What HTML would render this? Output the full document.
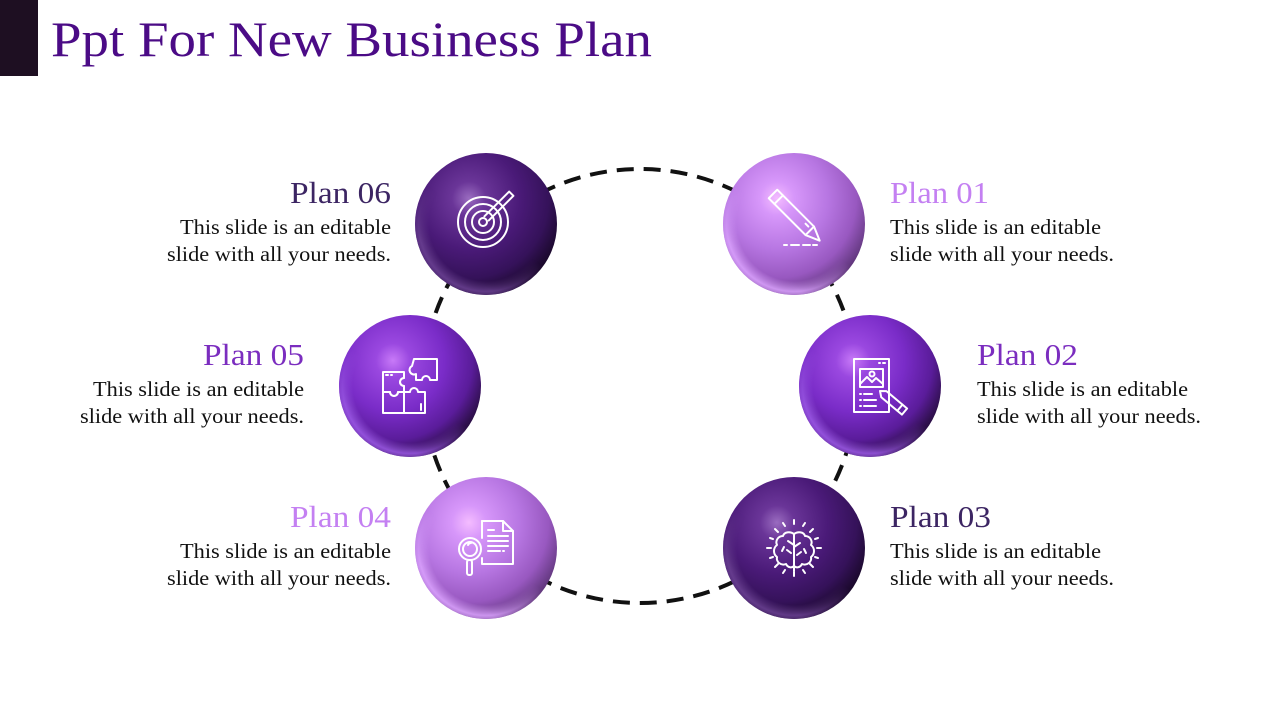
<!DOCTYPE html>
<html><head><meta charset="utf-8"><style>
html,body{margin:0;padding:0;background:#fff;}
svg{display:block;}
text{font-family:"Liberation Serif",serif;}
</style></head><body>
<svg width="1280" height="720" viewBox="0 0 1280 720" xmlns="http://www.w3.org/2000/svg">
<defs>
<radialGradient id="gL" cx="0.38" cy="0.32" r="0.8">
<stop offset="0" stop-color="#f4bcff"/><stop offset="0.15" stop-color="#d797fa"/><stop offset="0.45" stop-color="#b776e2"/><stop offset="0.7" stop-color="#9858c0"/><stop offset="0.85" stop-color="#6a3c88"/><stop offset="1" stop-color="#3a2048"/>
</radialGradient>
<radialGradient id="gM" cx="0.38" cy="0.32" r="0.8">
<stop offset="0" stop-color="#c87af8"/><stop offset="0.15" stop-color="#9a48e0"/><stop offset="0.45" stop-color="#7a2cc8"/><stop offset="0.7" stop-color="#5a1c9a"/><stop offset="0.85" stop-color="#30104f"/><stop offset="1" stop-color="#12041f"/>
</radialGradient>
<radialGradient id="gD" cx="0.38" cy="0.32" r="0.8">
<stop offset="0" stop-color="#9a6cc0"/><stop offset="0.15" stop-color="#6a3598"/><stop offset="0.45" stop-color="#4a1a78"/><stop offset="0.7" stop-color="#35125a"/><stop offset="0.85" stop-color="#1e0a32"/><stop offset="1" stop-color="#0a0210"/>
</radialGradient>
<radialGradient id="rL" cx="0.5" cy="0.5" r="0.5">
<stop offset="0.8" stop-color="#dca4ff" stop-opacity="0"/><stop offset="0.95" stop-color="#dca4ff" stop-opacity="0.85"/><stop offset="1" stop-color="#dca4ff" stop-opacity="0.6"/>
</radialGradient>
<radialGradient id="rM" cx="0.5" cy="0.5" r="0.5">
<stop offset="0.8" stop-color="#9c5ae6" stop-opacity="0"/><stop offset="0.95" stop-color="#9c5ae6" stop-opacity="0.85"/><stop offset="1" stop-color="#9c5ae6" stop-opacity="0.6"/>
</radialGradient>
<radialGradient id="rD" cx="0.5" cy="0.5" r="0.5">
<stop offset="0.8" stop-color="#6c4294" stop-opacity="0"/><stop offset="0.95" stop-color="#6c4294" stop-opacity="0.85"/><stop offset="1" stop-color="#6c4294" stop-opacity="0.6"/>
</radialGradient>
<linearGradient id="mg" x1="0.75" y1="0.35" x2="0.3" y2="1">
<stop offset="0.35" stop-color="#000"/><stop offset="0.8" stop-color="#fff"/>
</linearGradient>
<mask id="rimMask" maskContentUnits="objectBoundingBox">
<rect x="0" y="0" width="1" height="1" fill="url(#mg)"/>
</mask>
</defs>

<!-- header -->
<rect x="0" y="0" width="38" height="76" fill="#1e0f22"/>
<text x="51" y="56" font-size="50" fill="#4b0b86" textLength="601" lengthAdjust="spacingAndGlyphs">Ppt For New Business Plan</text>

<!-- dashed ring -->
<circle cx="640" cy="386" r="217" fill="none" stroke="#111" stroke-width="4" stroke-dasharray="17 10"/>

<!-- spheres -->
<g>
<circle cx="486" cy="224" r="71" fill="url(#gD)"/>
<circle cx="486" cy="224" r="71" fill="url(#rD)" mask="url(#rimMask)"/>
<circle cx="794" cy="224" r="71" fill="url(#gL)"/>
<circle cx="794" cy="224" r="71" fill="url(#rL)" mask="url(#rimMask)"/>
<circle cx="410" cy="386" r="71" fill="url(#gM)"/>
<circle cx="410" cy="386" r="71" fill="url(#rM)" mask="url(#rimMask)"/>
<circle cx="870" cy="386" r="71" fill="url(#gM)"/>
<circle cx="870" cy="386" r="71" fill="url(#rM)" mask="url(#rimMask)"/>
<circle cx="486" cy="548" r="71" fill="url(#gL)"/>
<circle cx="486" cy="548" r="71" fill="url(#rL)" mask="url(#rimMask)"/>
<circle cx="794" cy="548" r="71" fill="url(#gD)"/>
<circle cx="794" cy="548" r="71" fill="url(#rD)" mask="url(#rimMask)"/>
</g>

<!-- icons -->
<g fill="none" stroke="#fff" stroke-width="2" stroke-linecap="round" stroke-linejoin="round">
<!-- target 06 -->
<circle cx="483" cy="222" r="25"/>
<circle cx="483" cy="222" r="18"/>
<circle cx="483" cy="222" r="11"/>
<circle cx="483" cy="222" r="4"/>
<g transform="translate(483,222) rotate(-45)"><path d="M5,-3 L40,-3 L40,3 L5,3"/></g>

<!-- pencil 01 -->
<g transform="translate(773,194) rotate(45)">
<rect x="0" y="-6" width="52" height="12"/>
<line x1="8" y1="-6" x2="8" y2="6"/>
<path d="M52,-6 L66,0 L52,6"/>
<line x1="44" y1="-2" x2="48" y2="-2"/>
</g>
<path d="M784,245 L787,245 M791,245 L799,245 M803,245 L810,245 M813,245 L817,245"/>

<!-- puzzle 05 -->
<path d="M383,372 L404,372 L404,378 A4,4 0 0 0 404,386 L404,392 L398,392 A4,4 0 0 1 390,392 L383,392 Z"/>
<path d="M383,392 L390,392 A4,4 0 0 0 398,392 L404,392 L404,413 L383,413 Z"/>
<path d="M404,392 L404,386 A4,4 0 0 1 404,378 L404,378 M404,392 L410,392 A4,4 0 0 1 418,392 L425,392 L425,413 L404,413"/>
<path d="M414,359 L437,359 L437,380 L430,380 A4,4 0 0 0 422,380 L416,380 L416,374 A4,4 0 0 1 412,366 Z"/>
<line x1="386" y1="375" x2="388" y2="375"/><line x1="391" y1="375" x2="392" y2="375"/>
<line x1="421" y1="404" x2="421" y2="410"/>

<!-- document + pen 02 -->
<rect x="854" y="359" width="35" height="53"/>
<line x1="879" y1="363" x2="880" y2="363"/><line x1="883" y1="363" x2="885" y2="363"/>
<rect x="860" y="369" width="23" height="18"/>
<path d="M860,384 L867,377 L872,382 L876,378 L883,384"/>
<circle cx="872" cy="374" r="2.5"/>
<line x1="860" y1="394" x2="861" y2="394"/><line x1="864" y1="394" x2="872" y2="394"/>
<line x1="860" y1="400" x2="861" y2="400"/><line x1="864" y1="400" x2="876" y2="400"/>
<line x1="860" y1="406" x2="861" y2="406"/><line x1="864" y1="406" x2="876" y2="406"/>
<g transform="translate(880,391) rotate(40)">
<path d="M0,0 L5,-4 L32,-4 L32,4 L5,4 Z"/>
<line x1="26" y1="-4" x2="26" y2="4"/>
</g>

<!-- magnifier + doc 04 -->
<path d="M482,521 L503,521 L513,531 L513,564 L482,564 L482,558"/>
<path d="M482,538 L482,521"/>
<path d="M503,521 L503,531 L513,531"/>
<line x1="488" y1="530" x2="494" y2="530"/>
<line x1="488" y1="536" x2="508" y2="536"/>
<line x1="488" y1="541" x2="508" y2="541"/>
<line x1="488" y1="546" x2="508" y2="546"/>
<line x1="488" y1="551" x2="500" y2="551"/><line x1="503" y1="551" x2="504" y2="551"/>
<circle cx="470" cy="549" r="11"/>
<circle cx="470" cy="549" r="7"/>
<path d="M468,545 A3,3 0 0 1 471,543"/>
<rect x="467" y="560" width="5" height="15" rx="2"/>

<!-- brain 03 -->
<path d="M794,534 C790,531 784,532 783,536 C778,536 775,541 777,545 C773,548 773,554 777,557 C776,562 781,566 786,564 C788,568 792,568 794,566 Z"/>
<path d="M794,534 C798,531 804,532 805,536 C810,536 813,541 811,545 C815,548 815,554 811,557 C812,562 807,566 802,564 C800,568 796,568 794,566 Z"/>
<path d="M794,545 L788,541 M787,550 L791,553 M784,547 L782,551"/>
<path d="M794,547 L800,543 M801,552 L797,555 M804,549 L806,553"/>
<line x1="794" y1="568" x2="794" y2="571"/>
<g stroke-width="2">
<line x1="794" y1="520" x2="794" y2="524"/>
<line x1="794" y1="572" x2="794" y2="576"/>
<line x1="767" y1="548" x2="771" y2="548"/>
<line x1="817" y1="548" x2="821" y2="548"/>
<line x1="775" y1="529" x2="778" y2="532"/>
<line x1="813" y1="529" x2="810" y2="532"/>
<line x1="775" y1="567" x2="778" y2="564"/>
<line x1="813" y1="567" x2="810" y2="564"/>
<line x1="783" y1="523" x2="785" y2="526"/>
<line x1="805" y1="523" x2="803" y2="526"/>
<line x1="770" y1="538" x2="773" y2="539"/>
<line x1="818" y1="538" x2="815" y2="539"/>
<line x1="770" y1="558" x2="773" y2="557"/>
<line x1="818" y1="558" x2="815" y2="557"/>
<line x1="783" y1="573" x2="785" y2="570"/>
<line x1="805" y1="573" x2="803" y2="570"/>
</g>
</g>

<!-- labels left -->
<text x="290" y="203" font-size="31" fill="#3c2563" textLength="101" lengthAdjust="spacingAndGlyphs">Plan 06</text>
<text x="180" y="234" font-size="21" fill="#111" textLength="211" lengthAdjust="spacingAndGlyphs">This slide is an editable</text>
<text x="167" y="261" font-size="21" fill="#111" textLength="224" lengthAdjust="spacingAndGlyphs">slide with all your needs.</text>

<text x="203" y="365" font-size="31" fill="#7b2dbf" textLength="101" lengthAdjust="spacingAndGlyphs">Plan 05</text>
<text x="93" y="396" font-size="21" fill="#111" textLength="211" lengthAdjust="spacingAndGlyphs">This slide is an editable</text>
<text x="80" y="423" font-size="21" fill="#111" textLength="224" lengthAdjust="spacingAndGlyphs">slide with all your needs.</text>

<text x="290" y="527" font-size="31" fill="#c480f2" textLength="101" lengthAdjust="spacingAndGlyphs">Plan 04</text>
<text x="180" y="558" font-size="21" fill="#111" textLength="211" lengthAdjust="spacingAndGlyphs">This slide is an editable</text>
<text x="167" y="585" font-size="21" fill="#111" textLength="224" lengthAdjust="spacingAndGlyphs">slide with all your needs.</text>

<!-- labels right -->
<text x="890" y="203" font-size="31" fill="#c480f2" textLength="99" lengthAdjust="spacingAndGlyphs">Plan 01</text>
<text x="890" y="234" font-size="21" fill="#111" textLength="211" lengthAdjust="spacingAndGlyphs">This slide is an editable</text>
<text x="890" y="261" font-size="21" fill="#111" textLength="224" lengthAdjust="spacingAndGlyphs">slide with all your needs.</text>

<text x="977" y="365" font-size="31" fill="#7b2dbf" textLength="101" lengthAdjust="spacingAndGlyphs">Plan 02</text>
<text x="977" y="396" font-size="21" fill="#111" textLength="211" lengthAdjust="spacingAndGlyphs">This slide is an editable</text>
<text x="977" y="423" font-size="21" fill="#111" textLength="224" lengthAdjust="spacingAndGlyphs">slide with all your needs.</text>

<text x="890" y="527" font-size="31" fill="#3c2563" textLength="101" lengthAdjust="spacingAndGlyphs">Plan 03</text>
<text x="890" y="558" font-size="21" fill="#111" textLength="211" lengthAdjust="spacingAndGlyphs">This slide is an editable</text>
<text x="890" y="585" font-size="21" fill="#111" textLength="224" lengthAdjust="spacingAndGlyphs">slide with all your needs.</text>
</svg>
</body></html>
